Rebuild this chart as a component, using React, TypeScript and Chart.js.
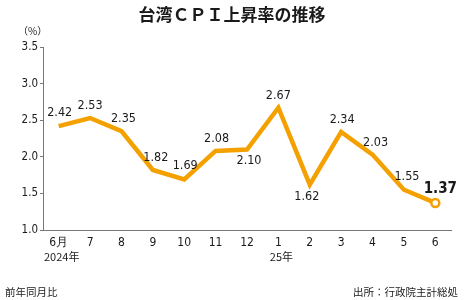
import React, { useEffect, useRef } from "react";
import { Chart, registerables } from "chart.js";

Chart.register(...registerables);

const months = ["6月", "7", "8", "9", "10", "11", "12", "1", "2", "3", "4", "5", "6"];
const cpiRate = [2.42, 2.53, 2.35, 1.82, 1.69, 2.08, 2.1, 2.67, 1.62, 2.34, 2.03, 1.55, 1.37];
const yearLabels = [
  { index: 0, text: "2024年" },
  { index: 7, text: "25年" },
];
const yTickMin = 1.0;
const yTickMax = 3.5;
const yTickStep = 0.5;

const titleText = "台湾ＣＰＩ上昇率の推移";
const unitText = "（%）";
const noteText = "前年同月比";
const sourceText = "出所：行政院主計総処";

// label placement (style only): [dx, dy]
const labelOffsets: [number, number][] = [
  [1, -13], [0, -12], [2, -12], [3, -12], [1, -14], [1, -12], [2, 11],
  [0, -12], [-3, 12], [1, -12], [3, -12], [3, -13], [5, -14],
];

const ORANGE = "#F4A100";
const TEXT = "#1a1a1a";
const NARROW = '"Liberation Sans Narrow", "DejaVu Sans Condensed", "Roboto", sans-serif';
const CJK = '"Noto Sans CJK JP", "Noto Sans", sans-serif';

export default function App() {
  const ref = useRef<HTMLCanvasElement | null>(null);

  useEffect(() => {
    if (!ref.current) return;
    const last = cpiRate.length - 1;

    const decor = {
      id: "decor",
      afterDatasetsDraw(chart: any) {
        const ctx = chart.ctx;
        const meta = chart.getDatasetMeta(0);
        ctx.save();
        ctx.textAlign = "center";
        ctx.textBaseline = "middle";
        meta.data.forEach((pt: any, i: number) => {
          const [dx, dy] = labelOffsets[i];
          const isLast = i === last;
          ctx.font = isLast ? `bold 15px ${NARROW}` : `12.5px ${NARROW}`;
          ctx.fillStyle = TEXT;
          ctx.fillText(cpiRate[i].toFixed(2), pt.x + dx, pt.y + dy);
        });
        ctx.restore();
      },
      afterDraw(chart: any) {
        const ctx = chart.ctx;
        const xs = chart.scales.x;
        ctx.save();
        ctx.fillStyle = TEXT;
        ctx.textBaseline = "middle";
        // title
        ctx.textAlign = "center";
        ctx.font = `bold 17px ${CJK}`;
        ctx.fillText(titleText, 232, 15);
        // unit
        ctx.textAlign = "left";
        ctx.font = `10px ${CJK}`;
        ctx.fillText(unitText, 18, 31);
        // year labels
        ctx.textAlign = "center";
        ctx.font = `11px ${CJK}`;
        yearLabels.forEach((y) => {
          ctx.fillText(y.text, xs.getPixelForValue(y.index) + 3, 257);
        });
        // footer
        ctx.textAlign = "left";
        ctx.font = `10.5px ${CJK}`;
        ctx.fillText(noteText, 5, 292);
        ctx.textAlign = "right";
        ctx.fillText(sourceText, 458, 292);
        ctx.restore();
      },
    };

    const chart = new Chart(ref.current, {
      type: "line",
      data: {
        labels: months,
        datasets: [
          {
            data: cpiRate,
            borderColor: ORANGE,
            borderWidth: 4.5,
            borderJoinStyle: "miter",
            tension: 0,
            pointRadius: cpiRate.map((_, i) => (i === last ? 4 : 0)),
            pointBackgroundColor: "#ffffff",
            pointBorderColor: ORANGE,
            pointBorderWidth: 2.5,
            clip: false as any,
          },
        ],
      },
      options: {
        responsive: false,
        animation: false,
        events: [],
        layout: { padding: { left: 0, top: 47, right: 14, bottom: 0 } },
        plugins: {
          legend: { display: false },
          tooltip: { enabled: false },
          title: { display: false },
        },
        scales: {
          x: {
            offset: true,
            grid: { display: false, drawTicks: false },
            border: { display: true, color: "#777", width: 1 },
            ticks: {
              color: TEXT,
              font: { family: NARROW, size: 12 },
              padding: 6,
              maxRotation: 0,
              autoSkip: false,
            },
            afterFit(scale: any) {
              scale.height = 70;
            },
          },
          y: {
            min: yTickMin,
            max: yTickMax,
            grid: { drawOnChartArea: false, drawTicks: true, tickLength: 3, color: "#777" },
            border: { display: true, color: "#777", width: 1 },
            ticks: {
              stepSize: yTickStep,
              color: TEXT,
              font: { family: NARROW, size: 11.5 },
              padding: 2,
              callback: (v: any) => Number(v).toFixed(1),
            },
            afterFit(scale: any) {
              scale.width = 43;
            },
          },
        },
      },
      plugins: [decor],
    });
    return () => chart.destroy();
  }, []);

  return (
    <div style={{ position: "absolute", left: 0, top: 0, width: 465, height: 300, background: "#fff" }}>
      <canvas ref={ref} width={465} height={300} style={{ width: 465, height: 300, display: "block" }} />
    </div>
  );
}
